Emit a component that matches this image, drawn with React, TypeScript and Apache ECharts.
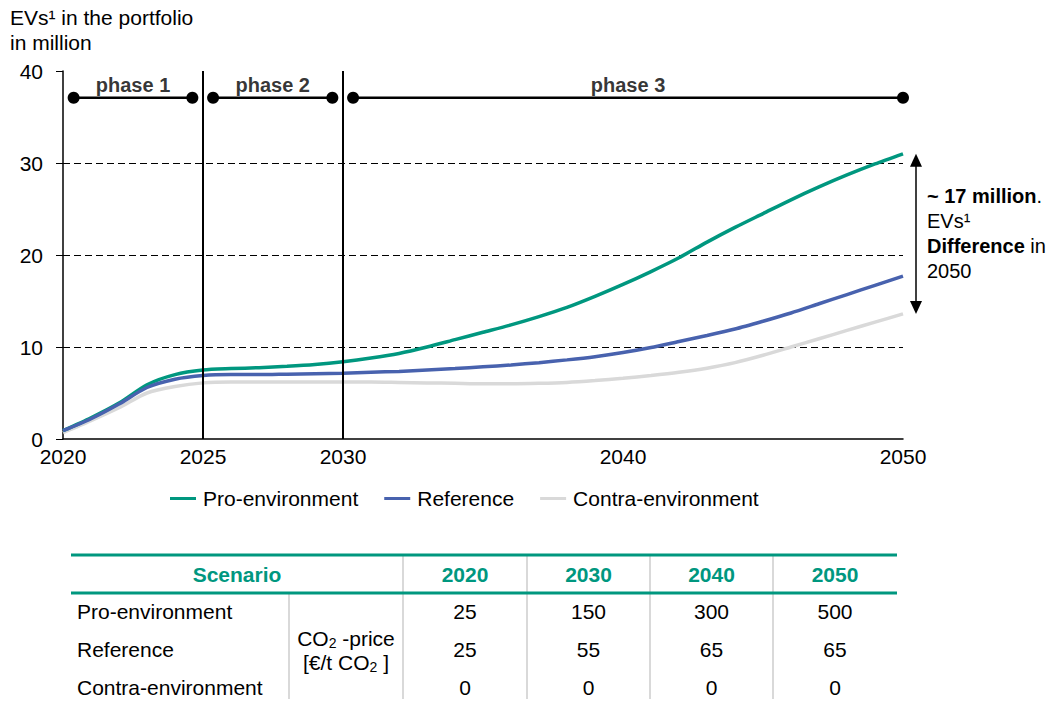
import React, { useEffect, useRef } from "react";
import * as echarts from "echarts";

// ---------- data ----------
const years = [
  2020, 2021, 2022, 2023, 2024, 2025, 2026, 2027, 2028, 2029, 2030,
  2031, 2032, 2033, 2034, 2035, 2036, 2037, 2038, 2039, 2040,
  2041, 2042, 2043, 2044, 2045, 2046, 2047, 2048, 2049, 2050,
];
const proEnv = [
  0.9, 2.3, 3.9, 5.9, 7.0, 7.5, 7.65, 7.75, 7.9, 8.1, 8.4,
  8.8, 9.3, 10.0, 10.8, 11.6, 12.4, 13.3, 14.3, 15.5, 16.8,
  18.2, 19.7, 21.4, 23.0, 24.5, 26.0, 27.4, 28.7, 29.9, 31.0,
];
const reference = [
  0.9, 2.2, 3.8, 5.6, 6.5, 6.9, 7.0, 7.0, 7.05, 7.1, 7.15,
  7.25, 7.35, 7.5, 7.65, 7.85, 8.05, 8.3, 8.6, 8.95, 9.4,
  9.95, 10.6, 11.25, 11.95, 12.8, 13.7, 14.7, 15.7, 16.7, 17.7,
];
const contraEnv = [
  0.7, 2.0, 3.4, 5.0, 5.7, 6.1, 6.2, 6.2, 6.2, 6.2, 6.2,
  6.2, 6.15, 6.1, 6.05, 6.0, 6.0, 6.05, 6.15, 6.35, 6.6,
  6.9, 7.25, 7.7, 8.3, 9.1, 10.0, 10.9, 11.8, 12.7, 13.6,
];
const seriesNames = ["Pro-environment", "Reference", "Contra-environment"];
const yTicks = { min: 0, max: 40, interval: 10 };
const xLabelYears = [2020, 2025, 2030, 2040, 2050];
const phaseBoundaries = [2025, 2030];
const phaseNames = ["phase 1", "phase 2", "phase 3"];
const phaseStarts = [2020.38, 2025.36, 2030.36];
const phaseEnds = [2024.62, 2029.62, 2050];
const phaseLevel = 37.1;

const tableYears = ["2020", "2030", "2040", "2050"];
const pricePro = [25, 150, 300, 500];
const priceRef = [25, 55, 65, 65];
const priceContra = [0, 0, 0, 0];

const TEAL = "#00977F";
const BLUE = "#4862AE";
const GREY = "#D9D9D9";
const FONT = '"Liberation Sans", Arial, sans-serif';
const FS = 21;

export default function App() {
  const ref = useRef<HTMLDivElement>(null);

  useEffect(() => {
    if (!ref.current) return;
    const chart = echarts.init(ref.current, undefined, { renderer: "svg" });

    const mk = (arr: number[]) => years.map((y, i) => [y, arr[i]]);

    const phaseSeries = phaseNames.map((n, i) => ({
      type: "line",
      name: n,
      data: [
        [phaseStarts[i], phaseLevel],
        [phaseEnds[i], phaseLevel],
      ],
      symbol: "circle",
      symbolSize: 12,
      showSymbol: true,
      itemStyle: { color: "#000" },
      lineStyle: { color: "#000", width: 2.5 },
      silent: true,
      z: 5,
    }));

    const phaseLabelSeries = {
      type: "scatter",
      name: "phaseLabels",
      symbolSize: 0,
      data: phaseNames.map((n, i) => ({
        value: [(phaseStarts[i] + phaseEnds[i]) / 2, phaseLevel],
        name: n,
      })),
      label: {
        show: true,
        position: "top",
        distance: 3,
        formatter: (p: any) => p.name,
        fontFamily: FONT,
        fontSize: 20,
        fontWeight: "bold",
        color: "#000",
      },
      silent: true,
    };

    const option: any = {
      animation: false,
      textStyle: { fontFamily: FONT },
      title: {
        text: "EVs¹ in the portfolio\nin million",
        left: 5,
        top: 0,
        textStyle: {
          fontFamily: FONT,
          fontSize: FS,
          fontWeight: "normal",
          color: "#000",
          lineHeight: 25,
        },
      },
      grid: { left: 63, right: 153, top: 71, bottom: 268, containLabel: false },
      legend: {
        data: seriesNames,
        left: 165,
        top: 483,
        icon: "rect",
        itemWidth: 26,
        itemHeight: 3,
        itemGap: 26,
        textStyle: { fontFamily: FONT, fontSize: 21, color: "#000", padding: [0, 0, 0, 2] },
      },
      xAxis: {
        type: "value",
        min: 2020,
        max: 2050,
        interval: 5,
        axisLine: { show: true, lineStyle: { color: "#000", width: 1.5 } },
        axisTick: { show: false },
        splitLine: { show: false },
        axisLabel: {
          color: "#000",
          fontFamily: FONT,
          fontSize: FS,
          margin: 7,
          formatter: (v: number) => (xLabelYears.includes(v) ? String(v) : ""),
        },
      },
      yAxis: {
        type: "value",
        min: yTicks.min,
        max: yTicks.max,
        interval: yTicks.interval,
        axisLine: { show: true, lineStyle: { color: "#000", width: 1.5 } },
        axisTick: { show: true, length: 7, lineStyle: { color: "#000", width: 1 } },
        splitLine: {
          show: true,
          showMinLine: false,
          showMaxLine: false,
          lineStyle: { color: "#000", width: 1, type: [7, 4] },
        },
        axisLabel: { color: "#000", fontFamily: FONT, fontSize: FS, margin: 20 },
      },
      series: [
        {
          type: "line",
          name: seriesNames[2],
          data: mk(contraEnv),
          smooth: 0.25,
          showSymbol: false,
          lineStyle: { color: GREY, width: 3.5 },
          itemStyle: { color: GREY },
          z: 2,
        },
        {
          type: "line",
          name: seriesNames[0],
          data: mk(proEnv),
          smooth: 0.25,
          showSymbol: false,
          lineStyle: { color: TEAL, width: 3.5 },
          itemStyle: { color: TEAL },
          z: 3,
        },
        {
          type: "line",
          name: seriesNames[1],
          data: mk(reference),
          smooth: 0.25,
          showSymbol: false,
          lineStyle: { color: BLUE, width: 3.5 },
          itemStyle: { color: BLUE },
          z: 4,
          markLine: {
            silent: true,
            symbol: ["none", "none"],
            label: { show: false },
            lineStyle: { color: "#000", width: 2, type: "solid" },
            data: phaseBoundaries.map((b) => ({ xAxis: b })),
          },
        },
        ...phaseSeries,
        phaseLabelSeries,
      ],
    };

    chart.setOption(option);

    // arrow annotation through the chart's own scales
    const last = years.length - 1;
    const pTop = chart.convertToPixel({ gridIndex: 0 }, [years[last], proEnv[last]]) as number[];
    const pBot = chart.convertToPixel({ gridIndex: 0 }, [years[last], contraEnv[last]]) as number[];
    const ax = pTop[0] + 13;
    const midY = (pTop[1] + pBot[1]) / 2;

    // table layout
    const colX = [71, 289, 403, 527, 650, 773, 897];
    const yTop = 555, yHead = 593, yBot = 704;
    const rowY = [611, 649, 687];
    const rows = [
      { name: seriesNames[0], vals: pricePro },
      { name: seriesNames[1], vals: priceRef },
      { name: seriesNames[2], vals: priceContra },
    ];
    const colCenters = [2, 3, 4, 5].map((i) => (colX[i] + colX[i + 1]) / 2);

    const tableEls: any[] = [];
    tableEls.push({
      type: "line",
      shape: { x1: colX[1], y1: yHead + 1, x2: colX[1], y2: yBot - 1 },
      style: { stroke: GREY, lineWidth: 2 },
    });
    [2, 3, 4, 5].forEach((i) =>
      tableEls.push({
        type: "line",
        shape: { x1: colX[i], y1: yTop + 1, x2: colX[i], y2: yBot - 1 },
        style: { stroke: GREY, lineWidth: 2 },
      })
    );
    [yTop, yHead, yBot].forEach((yy) =>
      tableEls.push({
        type: "line",
        shape: { x1: colX[0], y1: yy, x2: colX[6], y2: yy },
        style: { stroke: TEAL, lineWidth: 3 },
        z: 10,
      })
    );
    tableEls.push({
      type: "text",
      style: {
        text: "Scenario",
        x: (colX[0] + colX[2]) / 2,
        y: (yTop + yHead) / 2,
        align: "center",
        verticalAlign: "middle",
        fontFamily: FONT,
        fontSize: FS,
        fontWeight: "bold",
        fill: TEAL,
      },
    });
    tableYears.forEach((t, i) =>
      tableEls.push({
        type: "text",
        style: {
          text: t,
          x: colCenters[i],
          y: (yTop + yHead) / 2,
          align: "center",
          verticalAlign: "middle",
          fontFamily: FONT,
          fontSize: FS,
          fontWeight: "bold",
          fill: TEAL,
        },
      })
    );
    rows.forEach((r, ri) => {
      tableEls.push({
        type: "text",
        style: {
          text: r.name,
          x: 77,
          y: rowY[ri],
          align: "left",
          verticalAlign: "middle",
          fontFamily: FONT,
          fontSize: FS,
          fill: "#000",
        },
      });
      r.vals.forEach((v: number, ci: number) =>
        tableEls.push({
          type: "text",
          style: {
            text: String(v),
            x: colCenters[ci],
            y: rowY[ri],
            align: "center",
            verticalAlign: "middle",
            fontFamily: FONT,
            fontSize: FS,
            fill: "#000",
          },
        })
      );
    });
    const subRich = {
      a: { fontFamily: FONT, fontSize: FS, color: "#000", lineHeight: 24, verticalAlign: "middle" },
      s: { fontFamily: FONT, fontSize: 14, color: "#000", lineHeight: 10, verticalAlign: "bottom" },
    };
    tableEls.push({
      type: "text",
      style: {
        text: "{a|CO}{s|2}{a| -price}\n{a|[€/t CO}{s|2}{a| ]}",
        x: (colX[1] + colX[2]) / 2,
        y: 650,
        align: "center",
        verticalAlign: "middle",
        rich: subRich,
      },
    });

    const annoRich = {
      b: { fontFamily: FONT, fontSize: 20, fontWeight: "bold", color: "#000", lineHeight: 25 },
      n: { fontFamily: FONT, fontSize: 20, color: "#000", lineHeight: 25 },
    };

    chart.setOption({
      graphic: [
        {
          type: "line",
          shape: { x1: ax, y1: pTop[1] + 6, x2: ax, y2: pBot[1] - 6 },
          style: { stroke: "#000", lineWidth: 1.5 },
        },
        {
          type: "polygon",
          shape: { points: [[ax, pTop[1]], [ax - 6, pTop[1] + 13], [ax + 6, pTop[1] + 13]] },
          style: { fill: "#000" },
        },
        {
          type: "polygon",
          shape: { points: [[ax, pBot[1]], [ax - 6, pBot[1] - 13], [ax + 6, pBot[1] - 13]] },
          style: { fill: "#000" },
        },
        {
          type: "text",
          style: {
            text: "{b|~ 17 million}{n|.}\n{n|EVs¹}\n{b|Difference}{n| in}\n{n|2050}",
            x: ax + 11,
            y: midY,
            align: "left",
            verticalAlign: "middle",
            rich: annoRich,
          },
        },
        ...tableEls,
      ],
    });

    return () => chart.dispose();
  }, []);

  return <div ref={ref} style={{ width: 1056, height: 707, margin: -8 }} />;
}
